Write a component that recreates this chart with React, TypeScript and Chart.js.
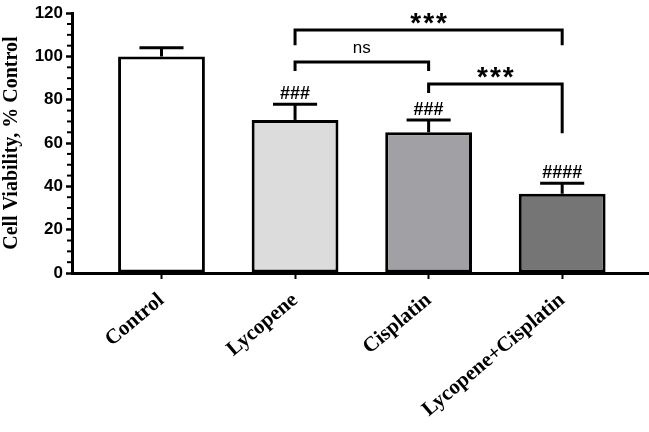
import React, { useEffect, useRef } from "react";
import { Chart, registerables } from "chart.js";

Chart.register(...registerables);

const categories = ["Control", "Lycopene", "Cisplatin", "Lycopene+Cisplatin"];
const viability = [100, 70.7, 65, 36.6];
const errorUp = [4, 7.2, 5.7, 4.9];
const hashMarks = ["", "###", "###", "####"];
const barColors = ["#ffffff", "#dcdcdc", "#a1a1a5", "#757575"];
const yTicks = [0, 20, 40, 60, 80, 100, 120];
// brackets: from index, to index, bar level, left end, right end, label
const bracketFrom = [1, 1, 2];
const bracketTo = [3, 2, 3];
const bracketLevel = [112.2, 97.5, 87.3];
const bracketLeftEnd = [105.2, 93.3, 83.1];
const bracketRightEnd = [105.2, 93.3, 64.5];
const bracketLabel = ["***", "ns", "***"];

const annotPlugin = {
  id: "annot",
  afterDatasetsDraw(chart: any) {
    const ctx = chart.ctx;
    const xs = chart.scales.x;
    const ys = chart.scales.y;
    const unit = xs.getPixelForValue(1) - xs.getPixelForValue(0);
    ctx.save();
    ctx.strokeStyle = "#000";
    ctx.fillStyle = "#000";
    ctx.lineCap = "butt";
    // error bars
    viability.forEach((v, i) => {
      const x = xs.getPixelForValue(i);
      const yTop = ys.getPixelForValue(v);
      const yErr = ys.getPixelForValue(v + errorUp[i]);
      ctx.lineWidth = 3;
      ctx.beginPath();
      ctx.moveTo(x, yTop);
      ctx.lineTo(x, yErr);
      ctx.stroke();
      const hw = unit * 0.165;
      ctx.beginPath();
      ctx.moveTo(x - hw, yErr);
      ctx.lineTo(x + hw, yErr);
      ctx.stroke();
      if (hashMarks[i]) {
        ctx.font = "bold 18px 'Liberation Sans', Arial, sans-serif";
        ctx.textAlign = "center";
        ctx.textBaseline = "alphabetic";
        ctx.fillText(hashMarks[i], x, yErr - 5);
      }
    });
    // brackets
    bracketFrom.forEach((f, k) => {
      const x1 = xs.getPixelForValue(f);
      const x2 = xs.getPixelForValue(bracketTo[k]);
      const yl = ys.getPixelForValue(bracketLevel[k]);
      const y1 = ys.getPixelForValue(bracketLeftEnd[k]);
      const y2 = ys.getPixelForValue(bracketRightEnd[k]);
      ctx.lineWidth = 3;
      ctx.lineJoin = "miter";
      ctx.beginPath();
      ctx.moveTo(x1, y1);
      ctx.lineTo(x1, yl);
      ctx.lineTo(x2, yl);
      ctx.lineTo(x2, y2);
      ctx.stroke();
      const label = bracketLabel[k];
      ctx.textAlign = "center";
      ctx.textBaseline = "alphabetic";
      if (label === "ns") {
        ctx.font = "17px 'Liberation Sans', Arial, sans-serif";
        ctx.fillText(label, (x1 + x2) / 2, yl - 9);
      } else {
        ctx.font = "bold 28px 'Liberation Sans', Arial, sans-serif";
        (ctx as any).letterSpacing = "2px";
        ctx.fillText(label, (x1 + x2) / 2 + 1, yl + 2);
        (ctx as any).letterSpacing = "0px";
      }
    });
    // minor y ticks
    const left = chart.chartArea.left;
    ctx.lineWidth = 2;
    for (let v = 5; v < 120; v += 5) {
      if (v % 20 === 0) continue;
      const y = ys.getPixelForValue(v);
      ctx.beginPath();
      ctx.moveTo(left - 5, y);
      ctx.lineTo(left, y);
      ctx.stroke();
    }
    ctx.restore();
  },
};

export default function App() {
  const ref = useRef<HTMLCanvasElement>(null);
  useEffect(() => {
    if (!ref.current) return;
    const chart = new Chart(ref.current, {
      type: "bar",
      data: {
        datasets: [
          {
            data: viability.map((v, i) => ({ x: i, y: v })),
            backgroundColor: barColors,
            borderColor: "#000",
            borderWidth: 3,
            borderSkipped: false,
            barPercentage: 0.65,
            categoryPercentage: 1,
          },
        ],
      },
      options: {
        animation: false,
        responsive: false,
        events: [],
        layout: { padding: { top: 12, left: 0, right: 0, bottom: 0 } },
        plugins: { legend: { display: false }, tooltip: { enabled: false } },
        scales: {
          x: {
            type: "linear",
            min: -0.67,
            max: 3.65,
            offset: false,
            afterBuildTicks: (s: any) => {
              s.ticks = categories.map((_, i) => ({ value: i }));
            },
            afterFit: (s: any) => {
              s.height = 159;
            },
            grid: {
              display: true,
              offset: false,
              drawOnChartArea: false,
              tickLength: 6,
              tickWidth: 2,
              tickColor: "#000",
            },
            border: { display: true, color: "#000", width: 3 },
            ticks: {
              autoSkip: false,
              minRotation: 40,
              maxRotation: 40,
              padding: 9,
              color: "#000",
              font: { family: "'Liberation Serif', 'Times New Roman', serif", weight: "bold", size: 21 },
              callback: (v: any) => categories[v] ?? "",
            },
          },
          y: {
            min: 0,
            max: 120,
            afterBuildTicks: (s: any) => {
              s.ticks = yTicks.map((v) => ({ value: v }));
            },
            afterFit: (s: any) => {
              s.width = 72;
            },
            grid: {
              display: true,
              drawOnChartArea: false,
              tickLength: 6,
              tickWidth: 2.5,
              tickColor: "#000",
            },
            border: { display: true, color: "#000", width: 3 },
            ticks: {
              padding: 3,
              color: "#000",
              font: { family: "'Liberation Sans', Arial, sans-serif", weight: "bold", size: 17 },
            },
            title: {
              display: true,
              text: "Cell Viability, % Control",
              color: "#000",
              padding: 0,
              font: { family: "'Liberation Serif', 'Times New Roman', serif", weight: "bold", size: 20 },
            },
          },
        },
      },
      plugins: [annotPlugin],
    } as any);
    return () => chart.destroy();
  }, []);
  return (
    <div style={{ position: "absolute", left: 0, top: 0, width: 649, height: 432 }}>
      <canvas ref={ref} width={649} height={432} style={{ width: 649, height: 432 }} />
    </div>
  );
}
